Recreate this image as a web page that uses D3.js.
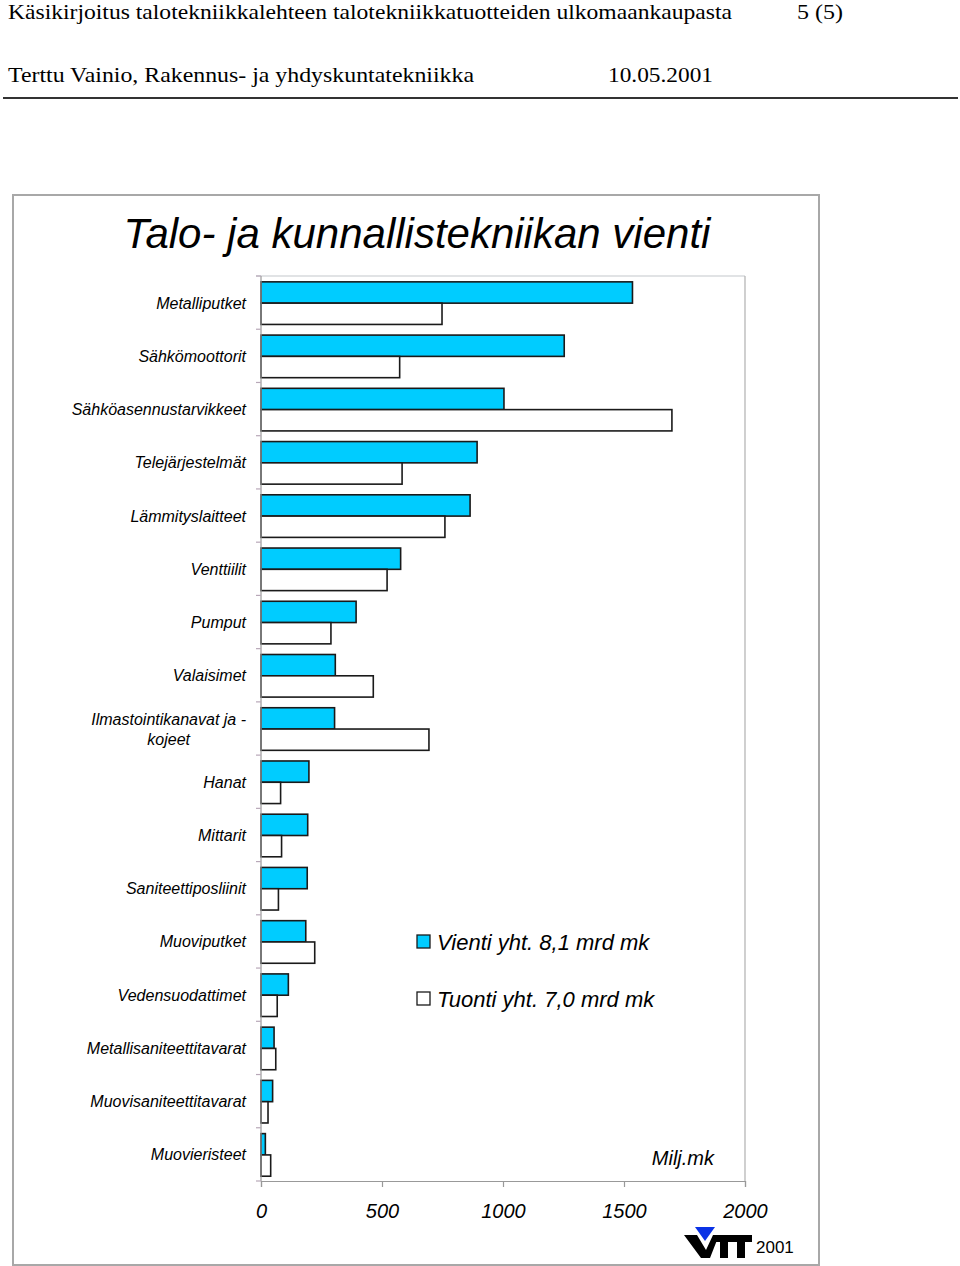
<!DOCTYPE html>
<html><head><meta charset="utf-8">
<script src="https://cdn.jsdelivr.net/npm/d3@7"></script>
<style>body{margin:0;background:#fff}svg{display:block}</style>
</head><body>
<script>
const categories = ["Metalliputket","Sähkömoottorit","Sähköasennustarvikkeet","Telejärjestelmät","Lämmityslaitteet","Venttiilit","Pumput","Valaisimet","Ilmastointikanavat ja -\nkojeet","Hanat","Mittarit","Saniteettiposliinit","Muoviputket","Vedensuodattimet","Metallisaniteettitavarat","Muovisaniteettitavarat","Muovieristeet"];
const vienti = [1535,1253,1004,893,864,577,393,307,304,198,193,191,185,113,54,48,18];
const tuonti = [748,573,1698,583,760,521,289,464,694,81,85,72,222,67,61,29,40];
const xTicks = [0,500,1000,1500,2000];
const seriesNames = ["Vienti yht. 8,1 mrd mk","Tuonti yht. 7,0 mrd mk"];
const colors = ["#00ccff","#ffffff"];

const W=960,H=1266;
const svg=d3.select("body").append("svg").attr("width",W).attr("height",H);
const sans="'Liberation Sans',Arial,sans-serif", serif="'Liberation Serif','Times New Roman',serif";

// header
svg.append("text").attr("x",8).attr("y",19).attr("font-family",serif).attr("font-size",21)
  .attr("textLength",724).attr("lengthAdjust","spacingAndGlyphs")
  .text("Käsikirjoitus talotekniikkalehteen talotekniikkatuotteiden ulkomaankaupasta");
svg.append("text").attr("x",797).attr("y",19).attr("font-family",serif).attr("font-size",21)
  .attr("textLength",46).attr("lengthAdjust","spacingAndGlyphs").text("5 (5)");
svg.append("text").attr("x",8).attr("y",82).attr("font-family",serif).attr("font-size",22)
  .attr("textLength",466).attr("lengthAdjust","spacingAndGlyphs")
  .text("Terttu Vainio, Rakennus- ja yhdyskuntatekniikka");
svg.append("text").attr("x",608).attr("y",82).attr("font-family",serif).attr("font-size",22)
  .attr("textLength",105).attr("lengthAdjust","spacingAndGlyphs").text("10.05.2001");
svg.append("line").attr("x1",3).attr("x2",958).attr("y1",98).attr("y2",98).attr("stroke","#333").attr("stroke-width",2);

// frame
svg.append("rect").attr("x",13).attr("y",195).attr("width",806).attr("height",1070)
  .attr("fill","none").attr("stroke","#a8a8a8").attr("stroke-width",2);

// title
svg.append("text").attr("x",417).attr("y",248).attr("text-anchor","middle")
  .attr("font-family",sans).attr("font-style","italic").attr("font-size",42)
  .text("Talo- ja kunnallistekniikan vienti");

const x=d3.scaleLinear().domain([0,2000]).range([261,745]);
const y=d3.scaleBand().domain(categories).range([276,1181]);
const bw=y.bandwidth();

// plot border
svg.append("line").attr("x1",256).attr("x2",745).attr("y1",276).attr("y2",276).attr("stroke","#c4c8cc").attr("stroke-width",1.2);
svg.append("line").attr("x1",745).attr("x2",745).attr("y1",276).attr("y2",1181).attr("stroke","#b0b0b0").attr("stroke-width",1.2);

// bars
const g=svg.append("g");
categories.forEach((c,i)=>{
  [vienti[i],tuonti[i]].forEach((v,s)=>{
    g.append("rect").attr("x",x(0)).attr("y",y(c)+bw*0.11+s*bw*0.4)
      .attr("width",x(v)-x(0)).attr("height",bw*0.4)
      .attr("fill",colors[s]).attr("stroke","#1a1a1a").attr("stroke-width",1.6);
  });
});

// left axis
svg.append("line").attr("x1",261).attr("x2",261).attr("y1",276).attr("y2",1181).attr("stroke","#999").attr("stroke-width",1.2);
const bounds=categories.map(c=>y(c)).concat([y.range()[1]]);
svg.selectAll(".lt").data(bounds).join("line").attr("x1",256).attr("x2",261)
  .attr("y1",d=>d).attr("y2",d=>d).attr("stroke","#b8a8b8").attr("stroke-width",1.2);

// category labels
categories.forEach(c=>{
  const lines=c.split("\n");
  const cy=y(c)+bw/2;
  const lh=20;
  const t=svg.append("text").attr("font-family",sans).attr("font-style","italic").attr("font-size",16);
  if(lines.length===1){
    t.attr("x",246).attr("y",cy+6).attr("text-anchor","end").text(lines[0]);
  } else {
    const tmp=svg.append("text").attr("font-family",sans).attr("font-style","italic").attr("font-size",16).text(lines[0]);
    const w=tmp.node().getComputedTextLength(); tmp.remove();
    const mx=246-w/2;
    lines.forEach((ln,k)=>{
      t.append("tspan").attr("x",mx).attr("y",cy+6-lh/2+k*lh).attr("text-anchor","middle").text(ln);
    });
  }
});

// bottom axis
const ax=svg.append("g").attr("transform","translate(0,1181)")
  .call(d3.axisBottom(x).tickValues(xTicks).tickSize(6).tickFormat(d3.format("d")));
ax.select(".domain").attr("stroke","#999").attr("stroke-width",1.2);
ax.selectAll(".tick line").attr("stroke","#999").attr("stroke-width",1.2);
ax.selectAll(".tick text").attr("font-family",sans).attr("font-style","italic").attr("font-size",20)
  .attr("fill","#000").attr("dy",0).attr("y",37);

svg.append("text").attr("x",714).attr("y",1165).attr("text-anchor","end")
  .attr("font-family",sans).attr("font-style","italic").attr("font-size",20).text("Milj.mk");

// legend
const ly=[935,992];
seriesNames.forEach((n,i)=>{
  svg.append("rect").attr("x",417).attr("y",ly[i]).attr("width",13).attr("height",13)
    .attr("fill",colors[i]).attr("stroke","#1a1a1a").attr("stroke-width",1.3);
  svg.append("text").attr("x",437).attr("y",ly[i]+15).attr("font-family",sans).attr("font-style","italic")
    .attr("font-size",22).text(n);
});

// VTT logo
const lg=svg.append("g").attr("transform","translate(684,1227)");
lg.append("path").attr("d","M0,8 L13,8 L22,23 L29,8 L35,8 L26,31 L17,31 Z").attr("fill","#000");
lg.append("path").attr("d","M11,0 L31,0 L21,14 Z").attr("fill","#0a32e6");
lg.append("path").attr("d","M30,8 L51,8 L51,15 L44,15 L44,31 L36,31 L36,15 L30,15 Z").attr("fill","#000");
lg.append("path").attr("d","M47,8 L68,8 L68,15 L61,15 L61,31 L53,31 L53,15 L47,15 Z").attr("fill","#000");
svg.append("text").attr("x",756).attr("y",1253).attr("font-family",sans).attr("font-size",17).text("2001");
</script>
</body></html>
